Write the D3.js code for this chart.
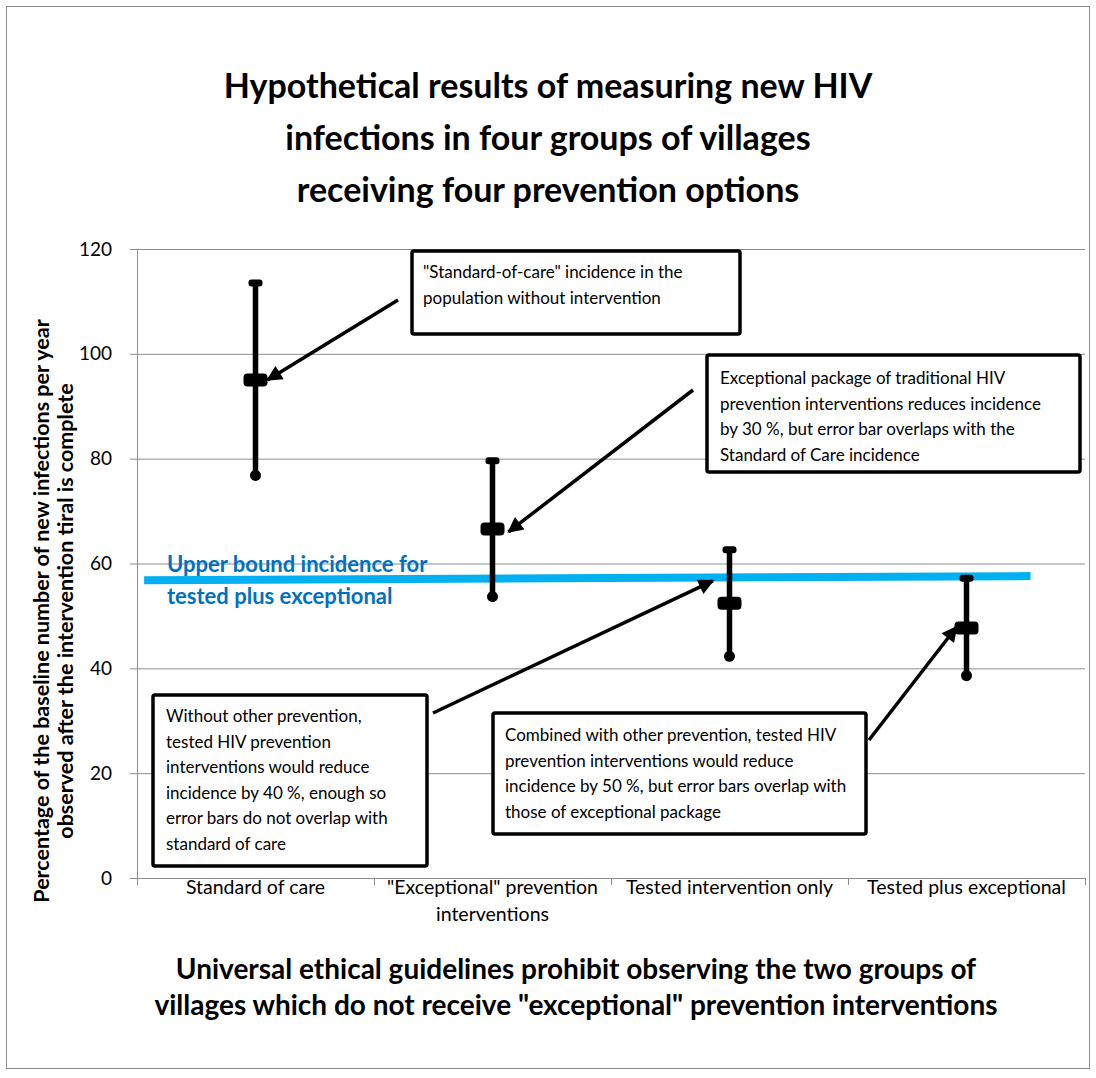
<!DOCTYPE html>
<html>
<head>
<meta charset="utf-8">
<script src="https://cdn.jsdelivr.net/npm/d3@7"></script>
<style>
  body { margin: 0; background: #fff; }
  svg { display: block; font-family: Lato, "Open Sans", sans-serif; }
</style>
</head>
<body>
<svg id="chart" width="1096" height="1078"></svg>
<script>
// groups and values
const categories = ["Standard of care", "\"Exceptional\" prevention interventions", "Tested intervention only", "Tested plus exceptional"];
const categoryLines = [["Standard of care"], ["\"Exceptional\" prevention", "interventions"], ["Tested intervention only"], ["Tested plus exceptional"]];
const means = [95, 66.6, 52.4, 47.7];
const upper = [113.5, 79.6, 62.6, 57.2];
const lower = [76.8, 53.7, 42.3, 38.6];
const yTicks = [0, 20, 40, 60, 80, 100, 120];
// upper bound line, x in category units (0 = first group)
const boundIdx = [-0.47, 3.27];
const boundVal = [56.8, 57.6];

const titleLines = ["Hypothetical results of measuring new HIV", "infections in four groups of villages", "receiving four prevention options"];
const yTitleLines = ["Percentage of the baseline number of new infections per year", "observed after the intervention tiral is complete"];
const xTitleLines = ["Universal ethical guidelines prohibit observing the two groups of", "villages which do not receive \"exceptional\" prevention interventions"];
const boundLabel = ["Upper bound incidence for", "tested plus exceptional"];

const svg = d3.select("#chart");
const plot = { left: 137, right: 1085, top: 249, bottom: 878 };

const x = d3.scaleBand().domain(categories).range([plot.left, plot.right]).padding(0);
const xi = d3.scaleLinear().domain([-0.5, 3.5]).range([plot.left, plot.right]);
const y = d3.scaleLinear().domain([0, 120]).range([plot.bottom, plot.top]);
const cx = i => x(categories[i]) + x.bandwidth() / 2;

// outer frame
svg.append("rect").attr("x", 6.5).attr("y", 6.5).attr("width", 1083).attr("height", 1062)
  .attr("fill", "none").attr("stroke", "#8c8c8c").attr("stroke-width", 1);

// title
svg.append("g").selectAll("text").data(titleLines).join("text")
  .attr("x", 548).attr("y", (d, i) => 98 + i * 52)
  .attr("text-anchor", "middle").attr("font-size", 34).attr("font-weight", "bold")
  .attr("fill", "#000").text(d => d);

// gridlines
svg.append("g").attr("transform", `translate(${plot.left},0)`)
  .call(d3.axisLeft(y).tickValues(yTicks.filter(v => v > 0)).tickSize(-(plot.right - plot.left)).tickFormat(""))
  .call(g => g.select(".domain").remove())
  .call(g => g.selectAll("line").attr("stroke", "#8c8c8c"));

// y axis
svg.append("g").attr("transform", `translate(${plot.left},0)`)
  .call(d3.axisLeft(y).tickValues(yTicks).tickSize(7).tickPadding(18))
  .call(g => g.select(".domain").attr("stroke", "#8c8c8c"))
  .call(g => g.selectAll("line").attr("stroke", "#8c8c8c"))
  .call(g => g.selectAll("text").attr("font-size", 19).attr("font-family", "Lato, sans-serif").attr("fill", "#000"));

// x axis
svg.append("g").attr("transform", `translate(0,${plot.bottom})`)
  .call(d3.axisBottom(xi).tickValues([-0.5, 0.5, 1.5, 2.5, 3.5]).tickSize(7).tickFormat(""))
  .call(g => g.select(".domain").attr("stroke", "#8c8c8c"))
  .call(g => g.selectAll("line").attr("stroke", "#8c8c8c"));

svg.append("g").selectAll("text").data(categoryLines).join("text")
  .attr("text-anchor", "middle").attr("font-size", 19.5).attr("fill", "#000")
  .attr("x", (d, i) => cx(i)).attr("y", 894)
  .each(function (d) {
    d3.select(this).selectAll("tspan").data(d).join("tspan")
      .attr("x", d3.select(this).attr("x")).attr("dy", (t, j) => j ? 27 : 0).text(t => t);
  });

// y title
svg.append("g").attr("transform", "translate(49,611) rotate(-90)")
  .selectAll("text").data(yTitleLines).join("text")
  .attr("x", 0).attr("y", (d, i) => i * 24)
  .attr("text-anchor", "middle").attr("font-size", 21.5).attr("font-weight", "bold").text(d => d);

// x title
svg.append("g").selectAll("text").data(xTitleLines).join("text")
  .attr("x", 576).attr("y", (d, i) => 979 + i * 36)
  .attr("text-anchor", "middle").attr("font-size", 28).attr("font-weight", "bold").text(d => d);

// upper bound line
svg.append("line")
  .attr("x1", xi(boundIdx[0])).attr("y1", y(boundVal[0]))
  .attr("x2", xi(boundIdx[1])).attr("y2", y(boundVal[1]))
  .attr("stroke", "#00b0f0").attr("stroke-width", 8);

svg.append("g").selectAll("text").data(boundLabel).join("text")
  .attr("x", 167).attr("y", (d, i) => 572 + i * 32)
  .attr("font-size", 22).attr("font-weight", "bold").attr("fill", "#0070c0").text(d => d);

// error bars
const bars = svg.append("g").selectAll("g").data(means).join("g");
bars.append("line")
  .attr("x1", (d, i) => cx(i)).attr("x2", (d, i) => cx(i))
  .attr("y1", (d, i) => y(upper[i])).attr("y2", (d, i) => y(lower[i]))
  .attr("stroke", "#000").attr("stroke-width", 5.5);
bars.append("rect")
  .attr("x", (d, i) => cx(i) - 7).attr("y", (d, i) => y(upper[i]) - 3.5)
  .attr("width", 14).attr("height", 7).attr("rx", 3).attr("fill", "#000");
bars.append("circle")
  .attr("cx", (d, i) => cx(i)).attr("cy", (d, i) => y(lower[i])).attr("r", 5.5).attr("fill", "#000");
bars.append("rect")
  .attr("x", (d, i) => cx(i) - 12).attr("y", d => y(d) - 6.5)
  .attr("width", 24).attr("height", 13).attr("rx", 4).attr("fill", "#000");

// arrows: start point in px, tip on the data
svg.append("defs").append("marker")
  .attr("id", "head").attr("viewBox", "0 0 10 10").attr("refX", 9).attr("refY", 5)
  .attr("markerWidth", 5).attr("markerHeight", 4.5).attr("orient", "auto")
  .append("path").attr("d", "M0,0 L10,5 L0,10 Z").attr("fill", "#000");

const arrows = [
  { from: [398, 300], to: [cx(0) + 12, y(means[0])] },
  { from: [693, 390], to: [cx(1) + 16, y(means[1]) + 3] },
  { from: [433, 713], to: [xi(2 - 0.07), y(56.7)] },
  { from: [869, 740], to: [cx(3) - 10, y(means[3]) - 1] }
];
svg.append("g").selectAll("line").data(arrows).join("line")
  .attr("x1", d => d.from[0]).attr("y1", d => d.from[1])
  .attr("x2", d => d.to[0]).attr("y2", d => d.to[1])
  .attr("stroke", "#000").attr("stroke-width", 3.5).attr("marker-end", "url(#head)");

// annotation boxes
const notes = [
  { x: 412, y: 251, w: 328, h: 83, tx: 423, ty: 278, lines: ["\"Standard-of-care\" incidence in the", "population without intervention"] },
  { x: 707, y: 355, w: 373, h: 117, tx: 720, ty: 384, lines: ["Exceptional package of traditional HIV", "prevention interventions reduces incidence", "by 30 %, but error bar overlaps with the", "Standard of Care incidence"] },
  { x: 153, y: 695, w: 274, h: 171, tx: 166, ty: 722, lines: ["Without other prevention,", "tested HIV prevention", "interventions would reduce", "incidence by 40 %, enough so", "error bars do not overlap with", "standard of care"] },
  { x: 493, y: 713, w: 373, h: 121, tx: 505, ty: 741, lines: ["Combined with other prevention, tested HIV", "prevention interventions would reduce", "incidence by 50 %, but error bars overlap with", "those of exceptional package"] }
];
const ng = svg.append("g").selectAll("g").data(notes).join("g");
ng.append("rect")
  .attr("x", d => d.x).attr("y", d => d.y).attr("width", d => d.w).attr("height", d => d.h)
  .attr("rx", 2).attr("fill", "#fff").attr("stroke", "#000").attr("stroke-width", 3.5);
ng.append("text").attr("font-size", 17).attr("fill", "#000")
  .each(function (d) {
    d3.select(this).selectAll("tspan").data(d.lines).join("tspan")
      .attr("x", d.tx).attr("y", (t, j) => d.ty + j * 25.5).text(t => t);
  });
</script>
</body>
</html>
